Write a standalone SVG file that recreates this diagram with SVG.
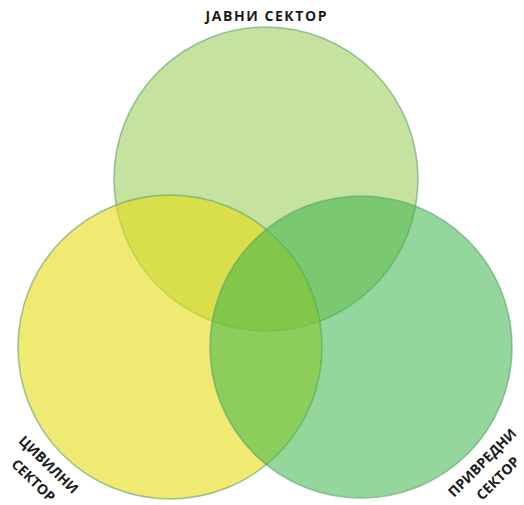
<svg xmlns="http://www.w3.org/2000/svg" width="524" height="505" viewBox="0 0 524 505">
  <style>
    .c { stroke: #4f9a6a; stroke-opacity: 0.55; stroke-width: 1.6; }
    .lbl { font-family: "Open Sans", "Liberation Sans", sans-serif; font-weight: 700; font-size: 14px; fill: #1a1a1a; text-anchor: middle; }
  </style>
  <rect width="524" height="505" fill="#ffffff"/>
  <g id="javni-sektor">
    <circle class="c" cx="266" cy="179" r="152" fill="#8cc63f" fill-opacity="0.5"/>
  </g>
  <g id="civilni-sektor">
    <circle class="c" cx="170" cy="347" r="152" fill="#e6dc14" fill-opacity="0.6"/>
  </g>
  <g id="privredni-sektor">
    <circle class="c" cx="361" cy="347" r="151" fill="#3cb44a" fill-opacity="0.55"/>
  </g>
  <g id="connectors"></g>
  <g id="labels">
    <text class="lbl" x="266" y="21" textLength="121" lengthAdjust="spacing">ЈАВНИ СЕКТОР</text>
    <g transform="translate(41,472.5) rotate(44)">
      <text class="lbl" x="0" y="-6">ЦИВИЛНИ</text>
      <text class="lbl" x="0" y="16">СЕКТОР</text>
    </g>
    <g transform="translate(490,470.5) rotate(-45)">
      <text class="lbl" x="0" y="-6">ПРИВРЕДНИ</text>
      <text class="lbl" x="0" y="16">СЕКТОР</text>
    </g>
  </g>
</svg>
